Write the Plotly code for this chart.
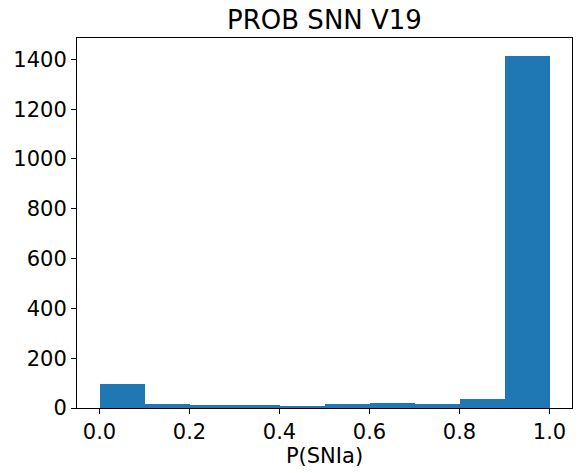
import plotly.graph_objects as go

bin_left = [0.0, 0.1, 0.2, 0.3, 0.4, 0.5, 0.6, 0.7, 0.8, 0.9]
counts = [96, 16, 12, 12, 8, 16, 20, 16, 36, 1415]
bin_width = 0.1
x_ticks = [0.0, 0.2, 0.4, 0.6, 0.8, 1.0]
y_ticks = [0, 200, 400, 600, 800, 1000, 1200, 1400]

centers = [b + bin_width / 2 for b in bin_left]

fig = go.Figure(go.Bar(
    x=centers, y=counts, width=[bin_width] * len(counts),
    marker=dict(color="#1f77b4", line=dict(width=0)),
))

font = "DejaVu Sans"
fig.update_layout(
    width=582, height=473,
    margin=dict(l=77, r=10, t=38, b=65),
    plot_bgcolor="white", paper_bgcolor="white",
    showlegend=False,
    bargap=0,
    title=dict(text="PROB SNN V19", x=(77 + 572) / 2 / 582, xanchor="center",
               y=1 - 20 / 473, yanchor="middle",
               font=dict(family=font, size=26, color="black")),
    font=dict(family=font, size=21, color="black"),
)
fig.update_xaxes(
    range=[-0.05, 1.05], tickvals=x_ticks,
    ticktext=[f"{v:.1f}" for v in x_ticks],
    ticks="outside", ticklen=5, tickwidth=1, tickcolor="black",
    showline=True, linecolor="black", linewidth=1, mirror=True,
    showgrid=False, zeroline=False,
    title=dict(text="P(SNIa)", font=dict(family=font, size=21), standoff=0),
    tickfont=dict(family=font, size=21),
)
fig.update_yaxes(
    range=[0, 1415 * 1.05], tickvals=y_ticks,
    ticks="outside", ticklen=5, tickwidth=1, tickcolor="black",
    showline=True, linecolor="black", linewidth=1, mirror=True,
    showgrid=False, zeroline=False,
    tickfont=dict(family=font, size=21),
)

fig.write_html("out.html")
